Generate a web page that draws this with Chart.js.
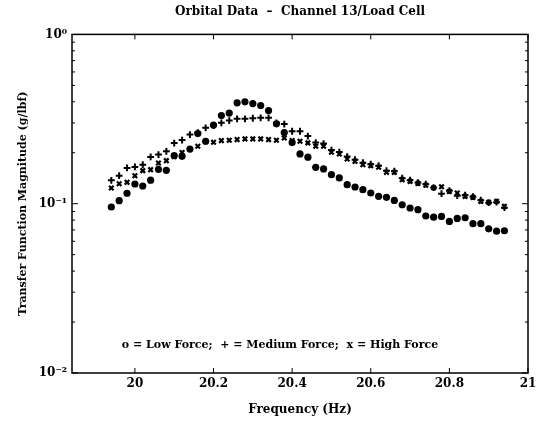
<!DOCTYPE html>
<html>
<head>
<meta charset="utf-8">
<script src="https://cdn.jsdelivr.net/npm/chart.js@4.4.1/dist/chart.umd.min.js"></script>
<style>
  html, body { margin: 0; padding: 0; background: #fff; }
  #wrap { width: 546px; height: 426px; }
</style>
</head>
<body>
<div id="wrap"><canvas id="myChart" width="546" height="426"></canvas></div>
<script>
const frequencies = [19.94, 19.96, 19.98, 20.00, 20.02, 20.04, 20.06, 20.08, 20.10, 20.12,
  20.14, 20.16, 20.18, 20.20, 20.22, 20.24, 20.26, 20.28, 20.30, 20.32,
  20.34, 20.36, 20.38, 20.40, 20.42, 20.44, 20.46, 20.48, 20.50, 20.52,
  20.54, 20.56, 20.58, 20.60, 20.62, 20.64, 20.66, 20.68, 20.70, 20.72,
  20.74, 20.76, 20.78, 20.80, 20.82, 20.84, 20.86, 20.88, 20.90, 20.92, 20.94];

const lowForce = [0.0956, 0.1042, 0.1153, 0.1307, 0.1272, 0.1377, 0.1596, 0.1574, 0.1923, 0.1905,
  0.2101, 0.2595, 0.2336, 0.2914, 0.3316, 0.3431, 0.3944, 0.3996, 0.3905, 0.3801,
  0.3550, 0.2962, 0.2630, 0.2296, 0.1968, 0.1884, 0.1640, 0.1604, 0.1484, 0.1419,
  0.1295, 0.1255, 0.1210, 0.1157, 0.1105, 0.1090, 0.1046, 0.0986, 0.0943, 0.0922,
  0.0846, 0.0832, 0.0841, 0.0786, 0.0818, 0.0826, 0.0762, 0.0762, 0.0711, 0.0688, 0.0692];

const mediumForce = [0.1374, 0.1464, 0.1626, 0.1649, 0.1701, 0.1889, 0.1950, 0.2040, 0.2280, 0.2375,
  0.2560, 0.2630, 0.2805, 0.2894, 0.3003, 0.3098, 0.3171, 0.3171, 0.3197, 0.3214,
  0.3214, 0.3003, 0.2954, 0.2678, 0.2678, 0.2508, 0.2296, 0.2265, 0.2073, 0.2017,
  0.1897, 0.1821, 0.1748, 0.1712, 0.1678, 0.1568, 0.1557, 0.1415, 0.1377, 0.1331,
  0.1304, 0.1243, 0.1146, 0.1194, 0.1115, 0.1123, 0.1100, 0.1049, 0.1014, 0.1021, 0.0947];

const highForce = [0.1238, 0.1313, 0.1337, 0.1464, 0.1568, 0.1589, 0.1740, 0.1796, 0.1897, 0.2004,
  0.2101, 0.2183, 0.2326, 0.2305, 0.2359, 0.2369, 0.2391, 0.2414, 0.2414, 0.2414,
  0.2391, 0.2369, 0.2447, 0.2359, 0.2336, 0.2287, 0.2183, 0.2183, 0.2012, 0.1968,
  0.1838, 0.1779, 0.1701, 0.1678, 0.1640, 0.1532, 0.1532, 0.1387, 0.1355, 0.1318,
  0.1286, 0.1243, 0.1260, 0.1182, 0.1157, 0.1105, 0.1090, 0.1032, 0.1018, 0.1032, 0.0964];

const xTicks = [20, 20.2, 20.4, 20.6, 20.8, 21];
const yTicks = [0.01, 0.1, 1];
const yTickLabels = ["10\u207B\u00B2", "10\u207B\u00B9", "10\u2070"];

const serif = "'DejaVu Serif', 'Liberation Serif', serif";

function toPoints(values){
    return frequencies.map((f, i) => ({x: f, y: values[i]}));
}

// frame round the plot with inward ticks, like the original
const frameTicks = {
    id: "frameTicks",
    afterDatasetsDraw(chart){
        const {ctx, chartArea: a, scales} = chart;
        ctx.save();
        ctx.strokeStyle = "#000";
        ctx.lineWidth = 1.5;
        ctx.strokeRect(a.left, a.top, a.right - a.left, a.bottom - a.top);
        ctx.lineWidth = 1;
        ctx.beginPath();
        xTicks.forEach(v => {
            const px = scales.x.getPixelForValue(v);
            ctx.moveTo(px, a.bottom); ctx.lineTo(px, a.bottom - 5);
            ctx.moveTo(px, a.top); ctx.lineTo(px, a.top + 5);
        });
        [0.01, 0.1].forEach(dec => {
            for (let m = 1; m <= 9; m++){
                const py = scales.y.getPixelForValue(dec * m);
                const len = m === 1 ? 6 : 3;
                ctx.moveTo(a.left, py); ctx.lineTo(a.left + len, py);
                ctx.moveTo(a.right, py); ctx.lineTo(a.right - len, py);
            }
        });
        ctx.stroke();
        ctx.restore();
    },
    afterDraw(chart){
        const {ctx, chartArea: a} = chart;
        ctx.save();
        ctx.fillStyle = "#000";
        ctx.font = "bold 11px " + serif;
        ctx.textAlign = "center";
        ctx.textBaseline = "middle";
        ctx.fillText("o = Low Force;  + = Medium Force;  x = High Force", a.left + 208, a.bottom - 28);
        ctx.restore();
    }
};

const myChart = new Chart(document.getElementById("myChart"), {
    type: "scatter",
    data: {
        datasets: [
            {
                label: "Low Force",
                data: toPoints(lowForce),
                pointStyle: "circle",
                pointRadius: 3.6,
                backgroundColor: "#000",
                borderColor: "#000",
                borderWidth: 0
            },
            {
                label: "Medium Force",
                data: toPoints(mediumForce),
                pointStyle: "cross",
                pointRadius: 3.4,
                borderColor: "#000",
                borderWidth: 2
            },
            {
                label: "High Force",
                data: toPoints(highForce),
                pointStyle: "crossRot",
                pointRadius: 3.2,
                borderColor: "#000",
                borderWidth: 2.2
            }
        ]
    },
    options: {
        responsive: false,
        animation: false,
        events: [],
        layout: { padding: { top: 5, right: 18, left: 0, bottom: 0 } },
        plugins: {
            legend: { display: false },
            tooltip: { enabled: false },
            title: {
                display: true,
                fullSize: false,
                text: "Orbital Data  \u2013  Channel 13/Load Cell",
                color: "#000",
                font: { family: serif, size: 12, weight: "bold", lineHeight: 1.2 },
                padding: { top: 0, bottom: 15 }
            }
        },
        scales: {
            x: {
                type: "linear",
                min: 19.84,
                max: 21,
                afterBuildTicks: (scale) => { scale.ticks = xTicks.map(v => ({value: v})); },
                afterFit: (scale) => { scale.height = 53; },
                grid: { display: false, drawTicks: false },
                border: { display: false },
                ticks: {
                    color: "#000",
                    padding: 4,
                    maxRotation: 0,
                    autoSkip: false,
                    font: { family: serif, size: 12, weight: "bold" },
                    callback: (v) => String(Math.round(v * 10) / 10)
                },
                title: {
                    display: true,
                    text: "Frequency (Hz)",
                    color: "#000",
                    font: { family: serif, size: 12, weight: "bold", lineHeight: 1.2 },
                    padding: { top: 0, bottom: 9 }
                }
            },
            y: {
                type: "logarithmic",
                min: 0.01,
                max: 1,
                afterBuildTicks: (scale) => { scale.ticks = yTicks.map(v => ({value: v})); },
                afterFit: (scale) => { scale.width = 72; },
                grid: { display: false, drawTicks: false },
                border: { display: false },
                ticks: {
                    color: "#000",
                    padding: 5,
                    autoSkip: false,
                    font: { family: serif, size: 12, weight: "bold" },
                    callback: (v) => yTickLabels[yTicks.findIndex(t => Math.abs(t - v) < 1e-9)]
                },
                title: {
                    display: true,
                    text: "Transfer Function Magnitude (g/lbf)",
                    color: "#000",
                    font: { family: serif, size: 11, weight: "bold", lineHeight: 1.2 },
                    padding: { top: 17, bottom: 0 }
                }
            }
        }
    },
    plugins: [frameTicks]
});
</script>
</body>
</html>
